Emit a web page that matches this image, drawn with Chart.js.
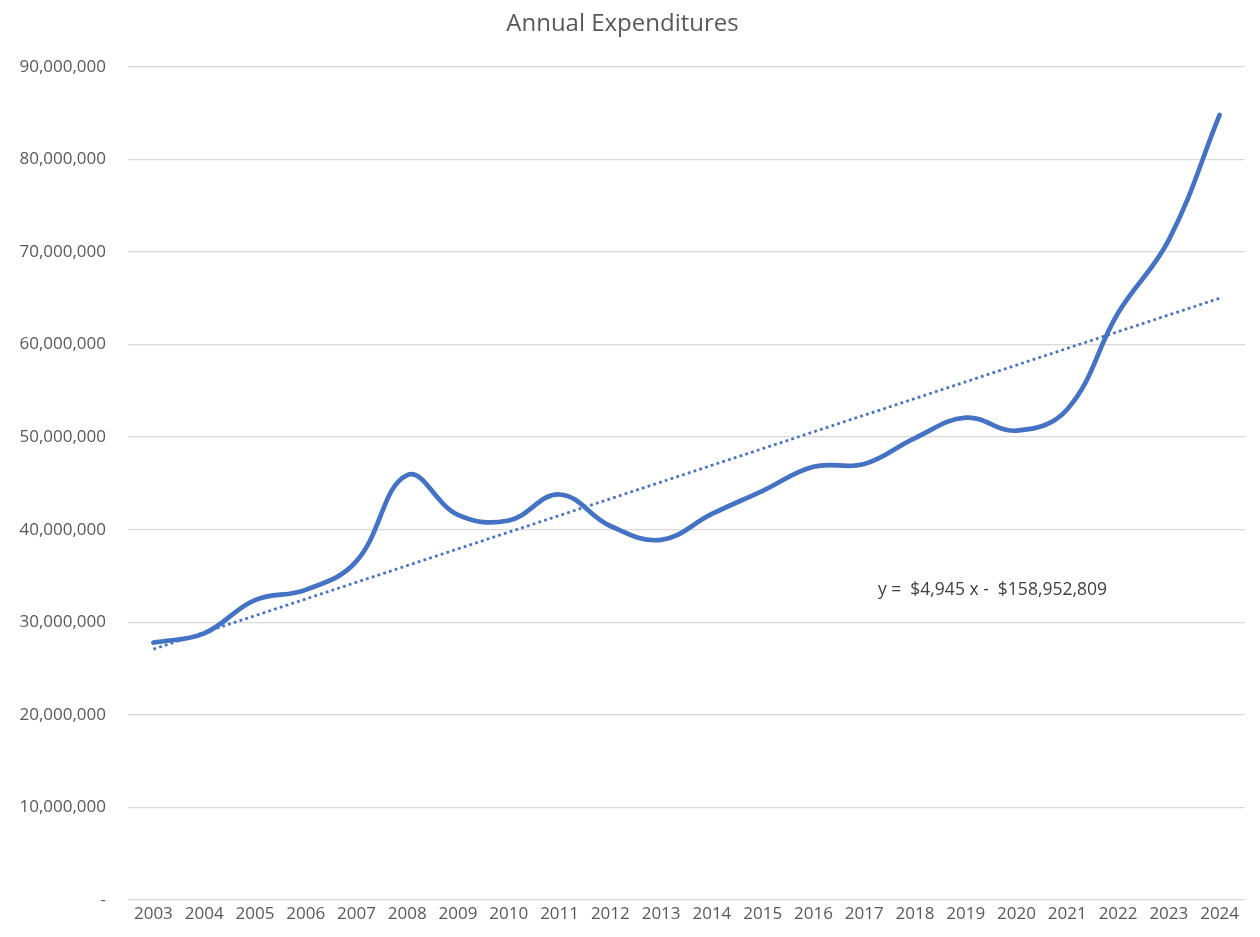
<!DOCTYPE html>
<html>
<head>
<meta charset="utf-8">
<script src="https://cdn.jsdelivr.net/npm/chart.js@4/dist/chart.umd.min.js"></script>
<style>
  html, body { margin: 0; padding: 0; background: #ffffff; }
  #wrap { width: 1260px; height: 937px; position: relative; }
</style>
</head>
<body>
<div id="wrap"><canvas id="c" width="1260" height="937"></canvas></div>
<script>
const years = ['2003','2004','2005','2006','2007','2008','2009','2010','2011','2012','2013','2014','2015','2016','2017','2018','2019','2020','2021','2022','2023','2024'];
const expenditures = [27800000, 28800000, 32400000, 33500000, 36600000, 45900000, 41600000, 41000000, 43800000, 40400000, 38900000, 41700000, 44200000, 46800000, 47100000, 49900000, 52100000, 50700000, 53000000, 63400000, 71300000, 84800000];
const trendStart = 27100000;
const trendEnd = 65000000;
const trendValues = [trendStart, null, null, null, null, null, null, null, null, null, null, null, null, null, null, null, null, null, null, null, null, trendEnd];
const yTickValues = [0, 10000000, 20000000, 30000000, 40000000, 50000000, 60000000, 70000000, 80000000, 90000000];
const yTickLabels = ['-', '10,000,000', '20,000,000', '30,000,000', '40,000,000', '50,000,000', '60,000,000', '70,000,000', '80,000,000', '90,000,000'];
const chartTitle = 'Annual Expenditures';
const equationText = 'y =  $4,945 x -  $158,952,809';
const equationAnchor = { index: 14.27, value: 33500000 };

const FONT = "'Open Sans', 'Liberation Sans', sans-serif";
const BLUE = '#4472C4';

const equationPlugin = {
  id: 'equationLabel',
  afterDatasetsDraw(chart) {
    const { ctx, scales } = chart;
    const x = scales.x.getPixelForValue(equationAnchor.index);
    const y = scales.y.getPixelForValue(equationAnchor.value);
    ctx.save();
    ctx.font = "17.5px " + FONT;
    ctx.fillStyle = '#404040';
    ctx.textAlign = 'left';
    ctx.textBaseline = 'middle';
    ctx.fillText(equationText, x, y);
    ctx.restore();
  }
};

new Chart(document.getElementById('c'), {
  type: 'line',
  data: {
    labels: years,
    datasets: [
      {
        label: 'Expenditures',
        data: expenditures,
        borderColor: BLUE,
        borderWidth: 4.7,
        tension: 0.4,
        pointRadius: 0,
        borderCapStyle: 'round',
        borderJoinStyle: 'round',
        fill: false,
        order: 1
      },
      {
        label: 'Trend',
        data: trendValues,
        spanGaps: true,
        borderColor: BLUE,
        borderWidth: 2.75,
        borderDash: [2.75, 3.3],
        pointRadius: 0,
        tension: 0,
        fill: false,
        order: 2
      }
    ]
  },
  options: {
    responsive: false,
    animation: false,
    devicePixelRatio: 1,
    layout: { padding: { left: 0, right: 15, top: 0, bottom: 0 } },
    plugins: {
      legend: { display: false },
      tooltip: { enabled: false },
      title: {
        display: true,
        text: chartTitle,
        color: '#595959',
        font: { family: FONT, size: 24, weight: 'normal' },
        lineHeight: 1.2,
        padding: { top: 10, bottom: 28 }
      }
    },
    scales: {
      x: {
        offset: true,
        grid: { display: false, drawTicks: false, offset: true },
        border: { display: false },
        ticks: {
          color: '#595959',
          font: { family: FONT, size: 17 },
          padding: 4,
          maxRotation: 0,
          autoSkip: false
        },
        afterFit(axis) { axis.height = 37; }
      },
      y: {
        min: 0,
        max: 90000000,
        afterBuildTicks(axis) { axis.ticks = yTickValues.map(v => ({ value: v })); },
        grid: { color: '#d9d9d9', lineWidth: 1.3, drawTicks: false },
        border: { display: false },
        ticks: {
          color: '#595959',
          font: { family: FONT, size: 17 },
          padding: 22,
          callback(value, index) { return yTickLabels[index]; }
        },
        afterFit(axis) { axis.width = 128; }
      }
    }
  },
  plugins: [equationPlugin]
});
</script>
</body>
</html>
